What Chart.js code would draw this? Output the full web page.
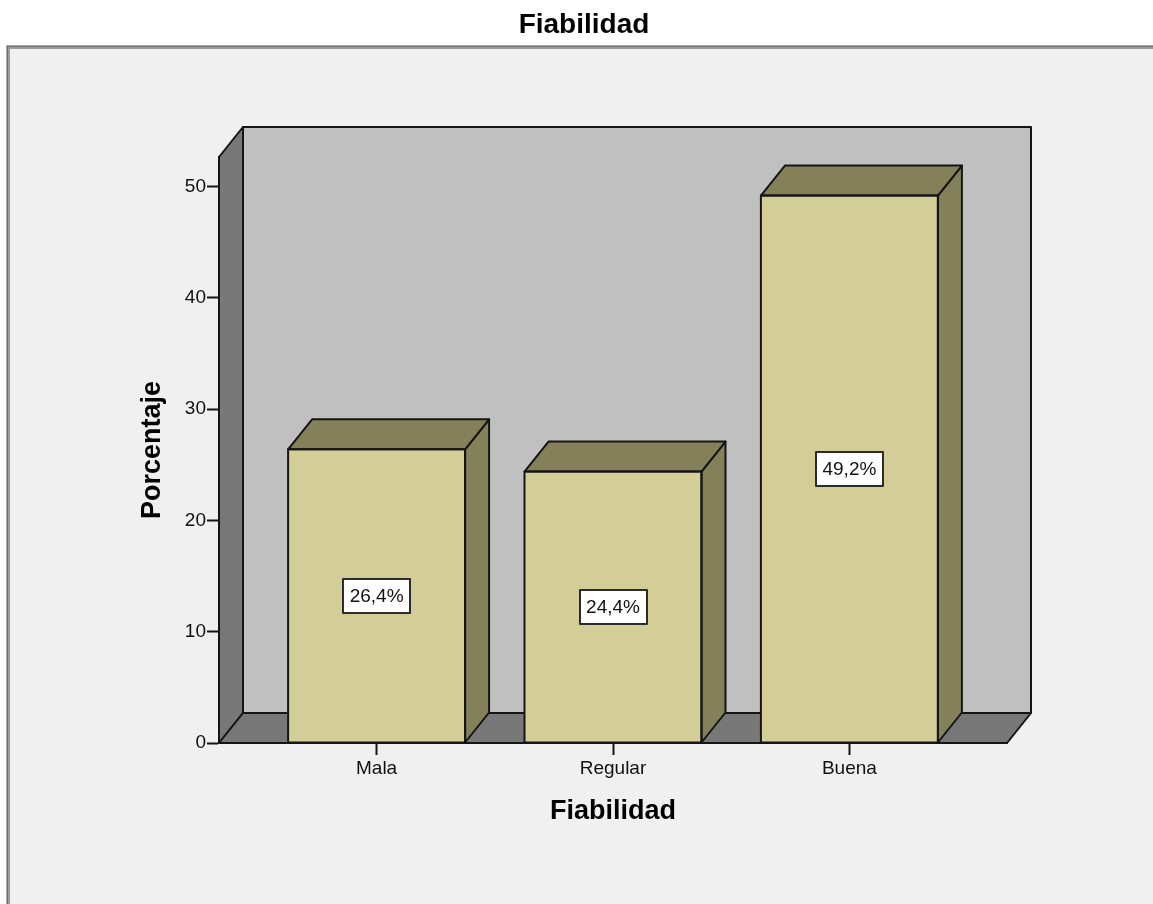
<!DOCTYPE html>
<html>
<head>
<meta charset="utf-8">
<title>Fiabilidad</title>
<script src="https://cdn.jsdelivr.net/npm/chart.js@4.4.1/dist/chart.umd.min.js"></script>
<style>
  html, body { margin: 0; padding: 0; background: #ffffff; }
  canvas { display: block; }
</style>
</head>
<body>
<canvas id="chart" width="1153" height="904"></canvas>
<script>
// Categories and percentages of the "Fiabilidad" variable
const categories = ['Mala', 'Regular', 'Buena'];
const percentages = [26.4, 24.4, 49.2];
const yTickValues = [0, 10, 20, 30, 40, 50];

// Drawing style
const FONT = '"Liberation Sans", Arial, Helvetica, sans-serif';
const LINE = '#151515';
const FRONT = '#d3ce98';
const SIDE = '#83805a';
const BACK_WALL = '#c0c0c0';
const SIDE_WALL = '#787878';
const DX = 24, DY = -30;   // depth offset of the 3D box

function poly(ctx, pts, fill) {
  ctx.beginPath();
  ctx.moveTo(pts[0][0], pts[0][1]);
  for (let i = 1; i < pts.length; i++) ctx.lineTo(pts[i][0], pts[i][1]);
  ctx.closePath();
  if (fill) { ctx.fillStyle = fill; ctx.fill(); }
  ctx.strokeStyle = LINE;
  ctx.lineWidth = 2;
  ctx.lineJoin = 'round';
  ctx.stroke();
}

// Panel, back wall, side wall and floor of the 3D box
const backdrop = {
  id: 'backdrop',
  beforeDraw(chart) {
    const { ctx, width, height, chartArea: a } = chart;
    ctx.save();
    ctx.fillStyle = '#ffffff';
    ctx.fillRect(0, 0, width, height);
    // gray panel with bevelled edge
    ctx.fillStyle = '#a9a9a9';
    ctx.fillRect(6, 45, width, height);
    ctx.fillStyle = '#6f6f6f';
    ctx.fillRect(7, 46, width, height);
    ctx.fillStyle = '#9c9c9c';
    ctx.fillRect(8, 47, width, height);
    ctx.fillStyle = '#f0f0f0';
    ctx.fillRect(10, 49, width, height);

    poly(ctx, [[a.left + DX, a.top + DY], [a.right + DX, a.top + DY],
               [a.right + DX, a.bottom + DY], [a.left + DX, a.bottom + DY]], BACK_WALL);
    poly(ctx, [[a.left, a.bottom], [a.left, a.top],
               [a.left + DX, a.top + DY], [a.left + DX, a.bottom + DY]], SIDE_WALL);
    poly(ctx, [[a.left, a.bottom], [a.right, a.bottom],
               [a.right + DX, a.bottom + DY], [a.left + DX, a.bottom + DY]], SIDE_WALL);
    ctx.restore();
  }
};

// Side and top faces of each bar, plus the value label box
const bars3d = {
  id: 'bars3d',
  afterDatasetsDraw(chart) {
    const ctx = chart.ctx;
    const meta = chart.getDatasetMeta(0);
    ctx.save();
    meta.data.forEach((bar, i) => {
      const { x, y, base, width } = bar.getProps(['x', 'y', 'base', 'width'], true);
      const l = x - width / 2, r = x + width / 2;
      poly(ctx, [[r, base], [r, y], [r + DX, y + DY], [r + DX, base + DY]], SIDE);
      poly(ctx, [[l, y], [r, y], [r + DX, y + DY], [l + DX, y + DY]], SIDE);
      poly(ctx, [[l, base], [l, y], [r, y], [r, base]], null);

      const txt = percentages[i].toFixed(1).replace('.', ',') + '%';
      ctx.font = '19px ' + FONT;
      const tw = ctx.measureText(txt).width;
      const bw = Math.round(tw + 13), bh = 34;
      const cy = (y + base) / 2;
      const bx = Math.round(x - bw / 2), by = Math.round(cy - bh / 2);
      ctx.fillStyle = '#ffffff';
      ctx.fillRect(bx, by, bw, bh);
      ctx.strokeStyle = '#2b2b2b';
      ctx.lineWidth = 2;
      ctx.strokeRect(bx, by, bw, bh);
      ctx.fillStyle = '#111111';
      ctx.textAlign = 'center';
      ctx.textBaseline = 'middle';
      ctx.fillText(txt, x, cy + 1);
    });
    ctx.restore();
  }
};

const axisLine = { display: true, color: LINE, width: 2 };
const tickGrid = { display: true, offset: false, drawOnChartArea: false, drawTicks: true, tickLength: 12, tickWidth: 2, tickColor: LINE };

new Chart(document.getElementById('chart'), {
  type: 'bar',
  data: {
    datasets: [{
      data: percentages.map((v, i) => ({ x: i, y: v })),
      backgroundColor: FRONT,
      borderWidth: 0,
      barThickness: 177
    }]
  },
  options: {
    responsive: false,
    animation: false,
    devicePixelRatio: 1,
    layout: { padding: { left: 15, right: 0, top: 0, bottom: 61 } },
    plugins: {
      legend: { display: false },
      tooltip: { enabled: false },
      title: {
        display: true,
        text: 'Fiabilidad',
        color: '#000000',
        font: { family: FONT, size: 28, weight: 'bold', lineHeight: 1.2 },
        padding: { top: 8.2, bottom: 115.2 }
      }
    },
    scales: {
      x: {
        type: 'linear',
        min: -2 / 3,
        max: 8 / 3,
        offset: false,
        afterBuildTicks: s => { s.ticks = categories.map((_, i) => ({ value: i })); },
        afterFit: s => { s.height = 100; },
        ticks: {
          callback: v => categories[v] ?? '',
          font: { family: FONT, size: 19 },
          color: '#111111',
          padding: 2,
          maxRotation: 0,
          autoSkip: false
        },
        grid: tickGrid,
        border: axisLine,
        title: {
          display: true,
          text: 'Fiabilidad',
          color: '#000000',
          font: { family: FONT, size: 27, weight: 'bold', lineHeight: 1.2 },
          padding: { top: 0, bottom: 15 }
        }
      },
      y: {
        min: 0,
        max: 52.67,
        afterBuildTicks: s => { s.ticks = yTickValues.map(v => ({ value: v })); },
        afterFit: s => { s.width = 204; },
        ticks: {
          font: { family: FONT, size: 19 },
          color: '#111111',
          padding: 1
        },
        grid: tickGrid,
        border: axisLine,
        title: {
          display: true,
          text: 'Porcentaje',
          color: '#000000',
          font: { family: FONT, size: 27, weight: 'bold', lineHeight: 1.2 },
          padding: { top: 121, bottom: 0 }
        }
      },
      // empty margin on the right of the plot box
      yRight: {
        position: 'right',
        display: true,
        min: 0,
        max: 52.67,
        afterFit: s => { s.width = 146; },
        ticks: { display: false },
        grid: { display: false, drawTicks: false },
        border: { display: false },
        title: { display: false }
      }
    }
  },
  plugins: [backdrop, bars3d]
});
</script>
</body>
</html>
